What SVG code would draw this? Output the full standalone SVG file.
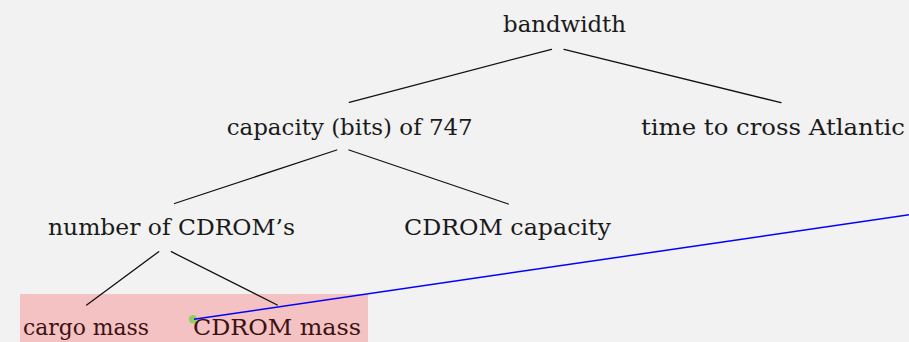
<svg xmlns="http://www.w3.org/2000/svg" width="909" height="342" viewBox="0 0 909 342">
  <style>
    .lbl { font-family: "DejaVu Serif", "Liberation Serif", serif; font-size: 23px; fill: #1a1a1a; }
    .hl { fill: #3c1212; }
    .edge { stroke: #111; stroke-width: 1.3; fill: none; stroke-linecap: round; }
    .link { stroke: #0000ff; stroke-width: 1.5; fill: none; }
  </style>
  <rect width="909" height="342" fill="#f2f2f2"/>

  <!-- highlight band behind the leaf row -->
  <rect id="highlight" x="20" y="294" width="348" height="48" fill="#f4c2c2"/>

  <!-- anchor point of the link, drawn beneath it -->
  <circle id="anchor" cx="193" cy="319.3" r="4.2" fill="#8fd062"/>

  <g id="connectors">
    <line class="edge" x1="551.5" y1="49.3" x2="349.3" y2="102.3"/>
    <line class="edge" x1="564" y1="49.3" x2="781" y2="102.7"/>
    <line class="edge" x1="336.7" y1="150" x2="174.5" y2="203.5"/>
    <line class="edge" x1="349" y1="150" x2="508.3" y2="204"/>
    <line class="edge" x1="158.7" y1="251.7" x2="86.7" y2="305"/>
    <line class="edge" x1="171.3" y1="251.7" x2="277.3" y2="305"/>
    <line class="link" x1="194" y1="319.2" x2="920" y2="213.2"/>
  </g>

  <g id="bandwidth"><text class="lbl" x="503" y="32" textLength="123" lengthAdjust="spacingAndGlyphs">bandwidth</text></g>
  <g id="capacity747"><text class="lbl" x="226.7" y="135" textLength="246" lengthAdjust="spacingAndGlyphs">capacity (bits) of 747</text></g>
  <g id="crossTime"><text class="lbl" x="641" y="135" textLength="264" lengthAdjust="spacingAndGlyphs">time to cross Atlantic</text></g>
  <g id="numCdroms"><text class="lbl" x="48" y="235" textLength="247" lengthAdjust="spacingAndGlyphs">number of CDROM’s</text></g>
  <g id="cdromCapacity"><text class="lbl" x="404" y="235" textLength="207" lengthAdjust="spacingAndGlyphs">CDROM capacity</text></g>
  <g id="cargoMass"><text class="lbl hl" x="23" y="335" textLength="126" lengthAdjust="spacingAndGlyphs">cargo mass</text></g>
  <g id="cdromMass"><text class="lbl hl" x="193" y="335" textLength="168" lengthAdjust="spacingAndGlyphs">CDROM mass</text></g>
</svg>
